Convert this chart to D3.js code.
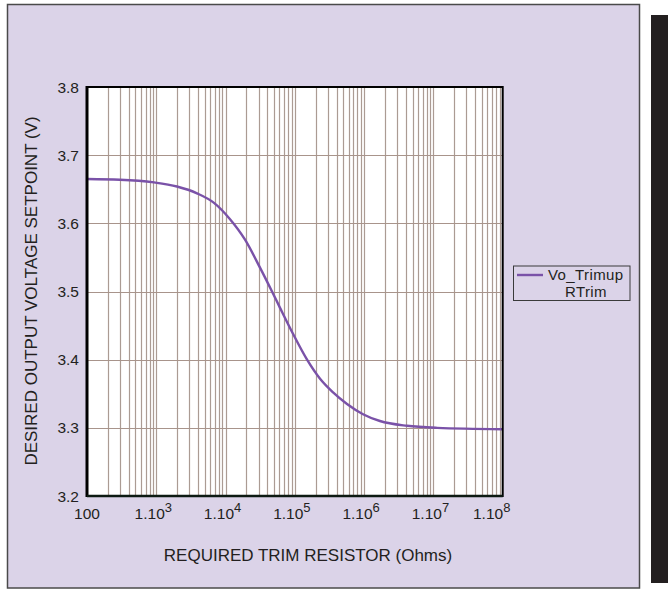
<!DOCTYPE html>
<html>
<head>
<meta charset="utf-8">
<script src="https://cdn.jsdelivr.net/npm/d3@7"></script>
<style>
  html, body { margin: 0; padding: 0; background: #fff; }
  svg { display: block; font-family: "Liberation Sans", Arial, Helvetica, sans-serif; }
</style>
</head>
<body>
<div id="chart"></div>
<script>
// Trim resistor (ohms) vs. desired output voltage
const rtrim = [100, 299, 927, 1990, 3870, 6810, 11600, 19100, 31400, 46800, 61100,
  94000, 150000, 231000, 356000, 566000, 964000, 1690000, 4160000, 11300000, 100000000];
const voTrimup = [3.665, 3.664, 3.660, 3.654, 3.644, 3.630, 3.606, 3.576, 3.535, 3.500, 3.476,
  3.438, 3.400, 3.372, 3.352, 3.335, 3.320, 3.310, 3.303, 3.300, 3.298];

const xDecades = [1e2, 1e3, 1e4, 1e5, 1e6, 1e7, 1e8];
const xExponents = [null, 3, 4, 5, 6, 7, 8];
const yTicks = [3.2, 3.3, 3.4, 3.5, 3.6, 3.7, 3.8];

const width = 668;
const height = 590;
const plot = { left: 87, top: 87, right: 502.7, bottom: 496 };

const svg = d3.select('#chart')
  .append('svg')
  .attr('width', width)
  .attr('height', height);

// panel background and the dark strip on the right
svg.append('rect')
  .attr('x', 7.5).attr('y', 4.5)
  .attr('width', 632).attr('height', 583.5)
  .attr('fill', '#dbd3e8')
  .attr('stroke', '#4a4a4a')
  .attr('stroke-width', 1.5);

svg.append('rect')
  .attr('x', 651).attr('y', 15)
  .attr('width', 17).attr('height', 568)
  .attr('fill', '#231f20');

const x = d3.scaleLog()
  .domain([1e2, 1e8])
  .range([plot.left, plot.right]);

const y = d3.scaleLinear()
  .domain([3.2, 3.8])
  .range([plot.bottom, plot.top]);

svg.append('rect')
  .attr('x', plot.left).attr('y', plot.top)
  .attr('width', plot.right - plot.left)
  .attr('height', plot.bottom - plot.top)
  .attr('fill', '#fff');

// grid: every 1..9 x 10^k on x, every 0.1 V on y
const xGrid = x.ticks().filter((d) => d > 1e2 && d < 1e8);

svg.append('g')
  .selectAll('line')
  .data(xGrid)
  .enter()
  .append('line')
  .attr('x1', (d) => Math.round(x(d)) + 0.5)
  .attr('x2', (d) => Math.round(x(d)) + 0.5)
  .attr('y1', plot.top)
  .attr('y2', plot.bottom)
  .attr('stroke', '#ab9b93')
  .attr('stroke-width', 1.2);

svg.append('g')
  .selectAll('line')
  .data(yTicks.slice(1, -1))
  .enter()
  .append('line')
  .attr('x1', plot.left)
  .attr('x2', plot.right)
  .attr('y1', (d) => Math.round(y(d)) + 0.5)
  .attr('y2', (d) => Math.round(y(d)) + 0.5)
  .attr('stroke', '#a8948b')
  .attr('stroke-width', 1.2);

// curve
const line = d3.line()
  .x((d, i) => x(rtrim[i]))
  .y((d) => y(d))
  .curve(d3.curveMonotoneX);

svg.append('path')
  .datum(voTrimup)
  .attr('d', line)
  .attr('fill', 'none')
  .attr('stroke', '#7a52a8')
  .attr('stroke-width', 2.4);

// plot frame
svg.append('rect')
  .attr('x', plot.left).attr('y', plot.top)
  .attr('width', plot.right - plot.left)
  .attr('height', plot.bottom - plot.top)
  .attr('fill', 'none')
  .attr('stroke', '#000')
  .attr('stroke-width', 2);

svg.append('line')
  .attr('x1', plot.left).attr('x2', plot.left)
  .attr('y1', plot.top - 1).attr('y2', plot.bottom + 1)
  .attr('stroke', '#000')
  .attr('stroke-width', 3);

svg.append('line')
  .attr('x1', plot.left).attr('x2', plot.right)
  .attr('y1', plot.bottom).attr('y2', plot.bottom)
  .attr('stroke', '#0c1a12')
  .attr('stroke-width', 2.6);

// y tick labels
svg.append('g')
  .selectAll('text')
  .data(yTicks)
  .enter()
  .append('text')
  .attr('x', 79)
  .attr('y', (d) => y(d) + 5.5)
  .attr('text-anchor', 'end')
  .attr('font-size', 15.5)
  .attr('fill', '#231f20')
  .text((d) => d.toFixed(1));

// x tick labels, "1.10" with a superscript exponent
const xLabels = svg.append('g')
  .selectAll('text')
  .data(xDecades)
  .enter()
  .append('text')
  .attr('x', (d, i) => x(d) - (i === xDecades.length - 1 ? 11 : (i === 0 ? 0 : 3)))
  .attr('y', 519)
  .attr('text-anchor', 'middle')
  .attr('font-size', 15.5)
  .attr('fill', '#231f20');

xLabels.each(function (d, i) {
  const t = d3.select(this);
  if (xExponents[i] === null) {
    t.text(String(d));
  } else {
    t.append('tspan').text('1.10');
    t.append('tspan')
      .attr('dy', -7)
      .attr('font-size', 13)
      .text(xExponents[i]);
  }
});

// axis titles
svg.append('text')
  .attr('x', 308)
  .attr('y', 561)
  .attr('text-anchor', 'middle')
  .attr('font-size', 17)
  .attr('fill', '#231f20')
  .text('REQUIRED TRIM RESISTOR (Ohms)');

svg.append('text')
  .attr('transform', 'translate(37,291)rotate(-90)')
  .attr('text-anchor', 'middle')
  .attr('font-size', 17)
  .attr('fill', '#231f20')
  .text('DESIRED OUTPUT VOLTAGE SETPOINT (V)');

// legend
const legend = svg.append('g');

legend.append('rect')
  .attr('x', 513.5).attr('y', 266)
  .attr('width', 116.5).attr('height', 34.5)
  .attr('fill', 'none')
  .attr('stroke', '#3a3a3a')
  .attr('stroke-width', 1);

legend.append('line')
  .attr('x1', 517).attr('x2', 543)
  .attr('y1', 275).attr('y2', 275)
  .attr('stroke', '#7a52a8')
  .attr('stroke-width', 2.4);

legend.append('text')
  .attr('x', 548).attr('y', 279.5)
  .attr('font-size', 15)
  .attr('letter-spacing', 0.4)
  .attr('fill', '#231f20')
  .text('Vo_Trimup');

legend.append('text')
  .attr('x', 565).attr('y', 296.5)
  .attr('font-size', 15)
  .attr('letter-spacing', 0.4)
  .attr('fill', '#231f20')
  .text('RTrim');
</script>
</body>
</html>
